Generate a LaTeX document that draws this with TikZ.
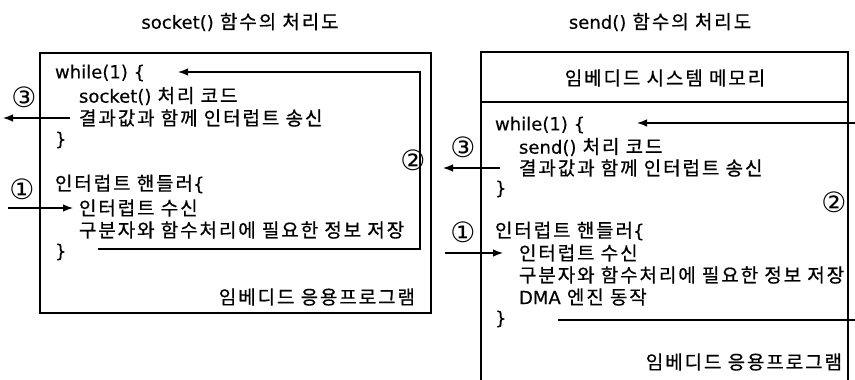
\documentclass[tikz,border=0pt]{standalone}
\usepackage{fontspec}
\setmainfont{Noto Sans CJK KR}
\newfontfamily\kr{Noto Sans CJK KR}[LetterSpace=10,FakeBold=0.6]
\newfontfamily\la{DejaVu Sans}[Scale=0.95,FakeBold=0.3]
\newfontfamily\cn{DejaVu Sans}
\usetikzlibrary{arrows.meta}
\begin{document}
\begin{tikzpicture}[x=1pt,y=-1pt,
  every node/.style={inner sep=0pt,outer sep=0pt},
  txt/.style={anchor=west,font=\kr\fontsize{19}{21}\selectfont},
  ctxt/.style={font=\kr\fontsize{19}{21}\selectfont},
  num/.style={font=\cn\fontsize{28}{30}\selectfont},
  boxst/.style={draw,line width=1.3pt},
  ln/.style={line width=1.3pt},
  arr/.style={line width=1.3pt,-{Latex[length=10pt,width=7.5pt]}}]
\useasboundingbox (0,0) rectangle (855,380);

% ---------- left diagram ----------
\node[ctxt] (titleL) at (240,22) {{\la socket()} 함수의 처리도};
\node[boxst,minimum width=391pt,minimum height=260pt] (boxL) at (235.5,183) {};
\node[txt] (lw1) at (55,73) {{\la while(1) \{}};
\node[txt] (lw2) at (79,96) {{\la socket()} 처리 코드};
\node[txt] (lw3) at (79,118) {결과값과 함께 인터럽트 송신};
\node[txt] (lw4) at (55,140) {{\la\}}};
\node[txt] (lh1) at (55,184) {인터럽트 핸들러{\la\{}};
\node[txt] (lh2) at (79,208) {인터럽트 수신};
\node[txt] (lh3) at (79,230) {구분자와 함수처리에 필요한 정보 저장};
\node[txt] (lh4) at (55,252) {{\la\}}};
\node[ctxt,anchor=east] (lapp) at (415,297) {임베디드 응용프로그램};
\node[num] (l3) at (24,97) {③};
\node[num] (l1) at (22,189) {①};
\node[num] (l2) at (413,160) {②};

\coordinate (la1) at (98,249);
\coordinate (la2) at (420,249);
\coordinate (la3) at (420,72);
\coordinate (la4) at (178,72);
\draw[arr] (la1) -- (la2) -- (la3) -- (la4);
\coordinate (l3s) at (70,118);
\coordinate (l3e) at (3,118);
\draw[arr] (l3s) -- (l3e);
\coordinate (l1s) at (8,208);
\coordinate (l1e) at (73,208);
\draw[arr] (l1s) -- (l1e);

% ---------- right diagram ----------
\node[ctxt] (titleR) at (660,22) {{\la send()} 함수의 처리도};
\node[boxst,minimum width=367pt,minimum height=360pt] (boxR) at (664.5,232) {};
\coordinate (sepA) at (481,102);
\coordinate (sepB) at (848,102);
\draw[ln] (sepA) -- (sepB);
\node[ctxt] (mem) at (665,78) {임베디드 시스템 메모리};
\node[txt] (rw1) at (495,125) {{\la while(1) \{}};
\node[txt] (rw2) at (519,147) {{\la send()} 처리 코드};
\node[txt] (rw3) at (519,168) {결과값과 함께 인터럽트 송신};
\node[txt] (rw4) at (495,189) {{\la\}}};
\node[txt] (rh1) at (495,231) {인터럽트 핸들러{\la\{}};
\node[txt] (rh2) at (519,253) {인터럽트 수신};
\node[txt] (rh3) at (519,275) {구분자와 함수처리에 필요한 정보 저장};
\node[txt] (rh4) at (519,297) {{\la DMA} 엔진 동작};
\node[txt] (rh5) at (495,319) {{\la\}}};
\node[ctxt,anchor=east] (rapp) at (842,362) {임베디드 응용프로그램};
\node[num] (r3) at (463,147) {③};
\node[num] (r1) at (463,232) {①};
\node[num] (r2) at (834,202) {②};

\coordinate (ra1) at (558,320);
\coordinate (ra2) at (875,320);
\coordinate (ra3) at (875,123);
\coordinate (ra4) at (637,123);
\draw[arr] (ra1) -- (ra2) -- (ra3) -- (ra4);
\coordinate (r3s) at (500,168);
\coordinate (r3e) at (443,168);
\draw[arr] (r3s) -- (r3e);
\coordinate (r1s) at (445,253);
\coordinate (r1e) at (503,253);
\draw[arr] (r1s) -- (r1e);
\end{tikzpicture}
\end{document}
